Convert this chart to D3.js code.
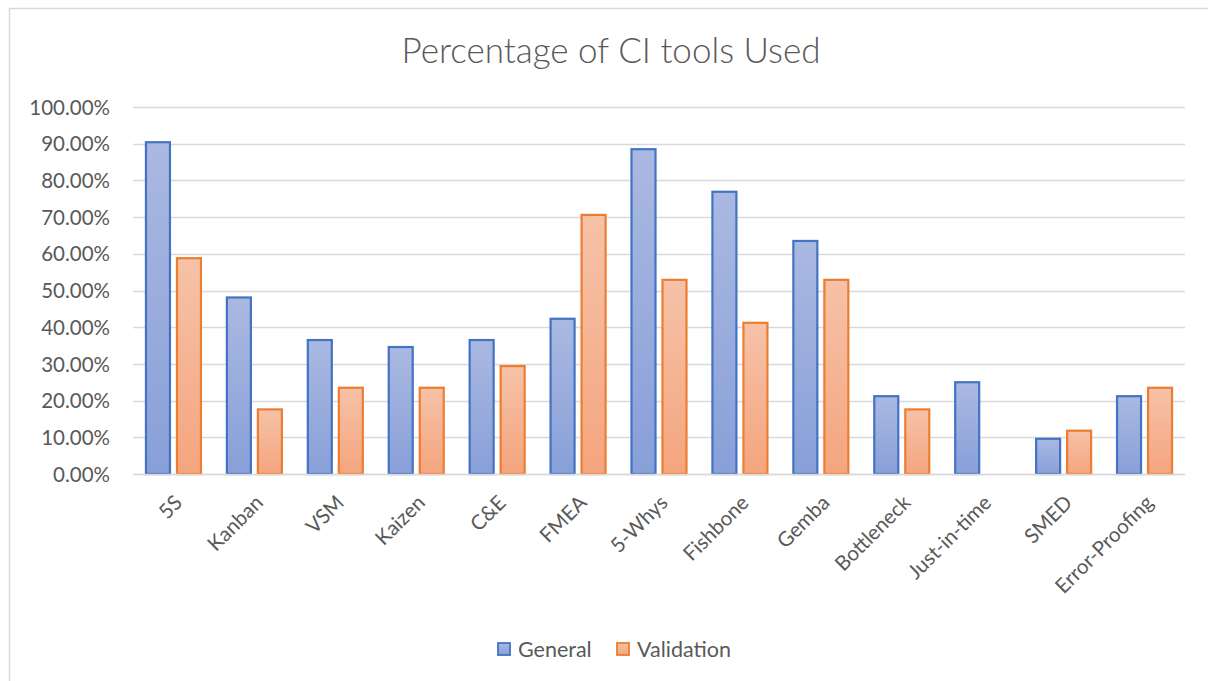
<!DOCTYPE html>
<html>
<head>
<meta charset="utf-8">
<script src="https://cdn.jsdelivr.net/npm/d3@7"></script>
<style>
  html, body { margin: 0; padding: 0; background: #fff; }
  svg { display: block; }
  svg text { font-family: Lato, "Open Sans", sans-serif; }
</style>
</head>
<body>
<svg id="chart" width="1208" height="681"></svg>
<script>
const categories = ["5S", "Kanban", "VSM", "Kaizen", "C&E", "FMEA", "5-Whys", "Fishbone", "Gemba", "Bottleneck", "Just-in-time", "SMED", "Error-Proofing"];
const general    = [0.904, 0.481, 0.365, 0.346, 0.365, 0.423, 0.885, 0.769, 0.635, 0.212, 0.250, 0.096, 0.212];
const validation = [0.588, 0.176, 0.235, 0.235, 0.294, 0.706, 0.529, 0.412, 0.529, 0.176, 0.000, 0.118, 0.235];
const seriesNames = ["General", "Validation"];
const yTicks = [0, 0.1, 0.2, 0.3, 0.4, 0.5, 0.6, 0.7, 0.8, 0.9, 1.0];
const title = "Percentage of CI tools Used";

const svg = d3.select("#chart");
const W = 1208, H = 681;
const margin = { left: 133, right: 23, top: 107, bottom: 207 };
const FS = 20.5;

// frame
svg.append("path")
  .attr("d", `M9.5,${H} L9.5,8.5 L${W},8.5`)
  .attr("fill", "none").attr("stroke", "#d9d9d9").attr("stroke-width", 1.5);

const defs = svg.append("defs");
const gradG = defs.append("linearGradient").attr("id", "gradG").attr("x1", 0).attr("y1", 0).attr("x2", 0).attr("y2", 1);
gradG.append("stop").attr("offset", "0%").attr("stop-color", "#aab9e1");
gradG.append("stop").attr("offset", "100%").attr("stop-color", "#889fd8");
const gradV = defs.append("linearGradient").attr("id", "gradV").attr("x1", 0).attr("y1", 0).attr("x2", 0).attr("y2", 1);
gradV.append("stop").attr("offset", "0%").attr("stop-color", "#f6c2a8");
gradV.append("stop").attr("offset", "100%").attr("stop-color", "#f4a57e");

const x = d3.scaleBand().domain(categories).range([margin.left, W - margin.right]).paddingInner(0).paddingOuter(0);
const y = d3.scaleLinear().domain([0, 1]).range([H - margin.bottom, margin.top]);

// gridlines
svg.append("g").selectAll("line").data(yTicks).join("line")
  .attr("x1", margin.left).attr("x2", W - margin.right)
  .attr("y1", d => Math.round(y(d)) + 0.5).attr("y2", d => Math.round(y(d)) + 0.5)
  .attr("stroke", "#d9d9d9").attr("stroke-width", 1.5);

// y axis labels
const yAxis = d3.axisLeft(y).tickValues(yTicks).tickFormat(d => d3.format(".2f")(d * 100) + "%").tickSize(0).tickPadding(0);
const gy = svg.append("g").attr("transform", `translate(${margin.left - 23},0)`).call(yAxis);
gy.select(".domain").remove();
gy.selectAll("text").attr("fill", "#595959").attr("font-size", FS + "px").attr("dy", "0.35em");

// bars
const bw = x.bandwidth();
const barW = 26;
const gap = 5;
const groupW = barW * 2 + gap;
const series = [
  { name: seriesNames[0], values: general, fill: "url(#gradG)", stroke: "#4472c4" },
  { name: seriesNames[1], values: validation, fill: "url(#gradV)", stroke: "#ed7d31" }
];
series.forEach((s, si) => {
  svg.append("g").selectAll("rect").data(categories.map((c, i) => ({ c, v: s.values[i] })).filter(d => d.v > 0)).join("rect")
    .attr("x", d => x(d.c) + bw / 2 - groupW / 2 + si * (barW + gap) + 1)
    .attr("y", d => y(d.v))
    .attr("width", barW - 2)
    .attr("height", d => y(0) - y(d.v))
    .attr("fill", s.fill)
    .attr("stroke", s.stroke)
    .attr("stroke-width", 2.2);
});

// x axis line
svg.append("line")
  .attr("x1", margin.left).attr("x2", W - margin.right)
  .attr("y1", y(0) + 0.5).attr("y2", y(0) + 0.5)
  .attr("stroke", "#d9d9d9").attr("stroke-width", 1.5);

// x labels
const xAxis = d3.axisBottom(x).tickSize(0).tickPadding(0);
const gx = svg.append("g").attr("transform", `translate(0,${y(0)})`).call(xAxis);
gx.select(".domain").remove();
gx.selectAll("text")
  .attr("fill", "#595959").attr("font-size", FS + "px")
  .attr("text-anchor", "end")
  .attr("y", 0)
  .attr("dy", null)
  .attr("transform", "translate(10,30) rotate(-45)");

// title
svg.append("text").attr("x", 611).attr("y", 63).attr("text-anchor", "middle")
  .attr("fill", "#595959").attr("font-size", "35px").attr("font-weight", 300).text(title);

// legend
const legend = svg.append("g");
const legendItems = [
  { name: seriesNames[0], x: 497, fill: "url(#gradG)", stroke: "#4472c4" },
  { name: seriesNames[1], x: 616, fill: "url(#gradV)", stroke: "#ed7d31" }
];
legendItems.forEach(li => {
  legend.append("rect").attr("x", li.x + 1).attr("y", 643).attr("width", 12).attr("height", 12)
    .attr("fill", li.fill).attr("stroke", li.stroke).attr("stroke-width", 1.8);
  legend.append("text").attr("x", li.x + 21).attr("y", 649).attr("dy", "0.35em")
    .attr("fill", "#595959").attr("font-size", "21.5px").text(li.name);
});
</script>
</body>
</html>
